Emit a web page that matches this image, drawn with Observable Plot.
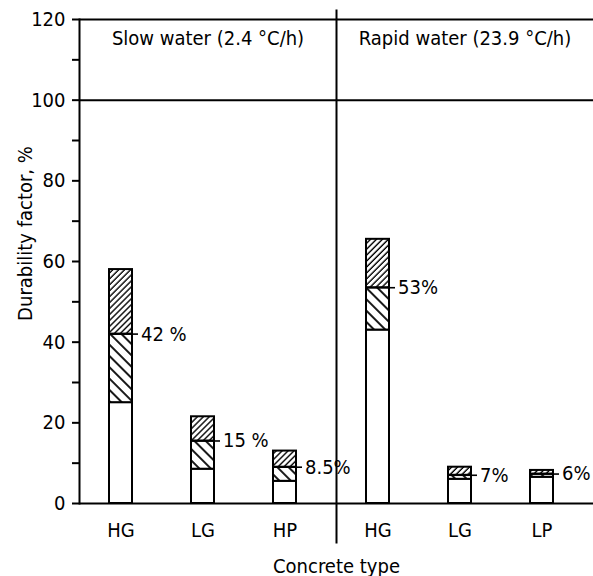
<!DOCTYPE html>
<html><head><meta charset="utf-8">
<script src="https://cdn.jsdelivr.net/npm/d3@7"></script>
<script src="https://cdn.jsdelivr.net/npm/@observablehq/plot@0.6"></script>
<style>
html,body{margin:0;padding:0;background:#fff;}
svg text{font-family:"DejaVu Sans Condensed","Liberation Sans Narrow","DejaVu Sans",sans-serif;font-stretch:condensed;}
</style></head><body><div id="chart"></div>
<script>
// ---- data ----
const regimes = ["Slow", "Rapid"];
const panelTitles = ["Slow water (2.4 °C/h)", "Rapid water (23.9 °C/h)"];
const regime = ["Slow", "Slow", "Slow", "Rapid", "Rapid", "Rapid"];
const concrete = ["HG", "LG", "HP", "HG", "LG", "LP"];
const lowerPart = [25, 8.5, 5.5, 43, 6, 6.5];        // open segment top
const middleTop = [42, 15.5, 9, 53.5, 7, 7.3];       // "\\\" segment top (labelled)
const totalTop = [58, 21.5, 13, 65.5, 9, 8.2];        // "///" segment top
const pctLabels = ["42 %", "15 %", "8.5%", "53%", "7%", "6%"];
const yMajor = [0, 20, 40, 60, 80, 100, 120];
const yMinor = [10, 30, 50, 70, 90, 110];
const refLines = [0, 100, 120];
const yTitle = "Durability factor, %";
const xTitle = "Concrete type";

const rows = concrete.map((c, i) => ({
  regime: regime[i], slot: i % 3, concrete: c,
  lower: lowerPart[i], middle: middleTop[i], total: totalTop[i], label: pctLabels[i]
}));
const panels = regimes.map((r, i) => ({regime: r, title: panelTitles[i]}));

const font = "\"DejaVu Sans Condensed\",\"Liberation Sans Narrow\",\"DejaVu Sans\",sans-serif";

const chart = Plot.plot({
  width: 593, height: 576,
  marginLeft: 78, marginRight: 0, marginTop: 19, marginBottom: 73,
  style: {fontSize: "20px", fontFamily: font, color: "#000", background: "#fff", overflow: "visible"},
  fx: {domain: regimes, padding: 0, axis: null},
  x: {domain: [0, 1, 2], paddingInner: 0.7212, paddingOuter: 0.4212, align: 0.4245, axis: null},
  y: {domain: [0, 120], axis: null},
  marks: [
    Plot.ruleY(refLines, {strokeWidth: 2}),
    Plot.frame({anchor: "left", fx: "Slow", strokeWidth: 2}),
    Plot.frame({anchor: "left", fx: "Rapid", strokeWidth: 2, insetTop: -9, insetBottom: -39}),
    Plot.axisY({ticks: yMajor, tickSize: 7, tickPadding: 7, strokeWidth: 2, fontSize: 20, label: null}),
    Plot.axisY({ticks: yMinor, tickSize: 7, strokeWidth: 2, tickFormat: () => "", label: null}),
    Plot.barY(rows, {fx: "regime", x: "slot", y1: 0, y2: "lower", fill: "#fff", stroke: "#000", strokeWidth: 2}),
    Plot.barY(rows, {fx: "regime", x: "slot", y1: "lower", y2: "middle", fill: "url(#hatchBack)", stroke: "#000", strokeWidth: 2}),
    Plot.barY(rows, {fx: "regime", x: "slot", y1: "middle", y2: "total", fill: "url(#hatchFwd)", stroke: "#000", strokeWidth: 2}),
    Plot.tickY(rows, {fx: "regime", x: "slot", y: "middle", strokeWidth: 1.6, insetRight: -6}),
    Plot.text(rows, {fx: "regime", x: "slot", y: "middle", text: "label", textAnchor: "start", dx: 20, fontSize: 20}),
    Plot.text(rows, {fx: "regime", x: "slot", text: "concrete", frameAnchor: "bottom", lineAnchor: "bottom", dy: 33, fontSize: 20}),
    Plot.text(panels, {fx: "regime", text: "title", frameAnchor: "top", lineAnchor: "middle", dy: 19, fontSize: 20}),
    Plot.text([yTitle], {fx: () => "Slow", text: d => d, frameAnchor: "left", textAnchor: "middle", rotate: -90, dx: -54, dy: -28, fontSize: 20}),
    Plot.text([xTitle], {fx: () => "Rapid", text: d => d, frameAnchor: "bottom-left", textAnchor: "middle", lineAnchor: "bottom", dy: 69, fontSize: 20})
  ]
});

// hatch patterns
const ns = "http://www.w3.org/2000/svg";
const defs = document.createElementNS(ns, "defs");
defs.innerHTML = `
<pattern id="hatchFwd" patternUnits="userSpaceOnUse" width="4.2" height="4.2" patternTransform="rotate(45)">
  <rect width="4.2" height="4.2" fill="#fff"/>
  <line x1="1" y1="0" x2="1" y2="4.2" stroke="#000" stroke-width="1.4"/>
</pattern>
<pattern id="hatchBack" patternUnits="userSpaceOnUse" width="8" height="8" patternTransform="rotate(-45)">
  <rect width="8" height="8" fill="#fff"/>
  <line x1="1" y1="0" x2="1" y2="8" stroke="#000" stroke-width="1.8"/>
</pattern>`;
chart.insertBefore(defs, chart.firstChild);
document.getElementById("chart").appendChild(chart);
</script></body></html>
